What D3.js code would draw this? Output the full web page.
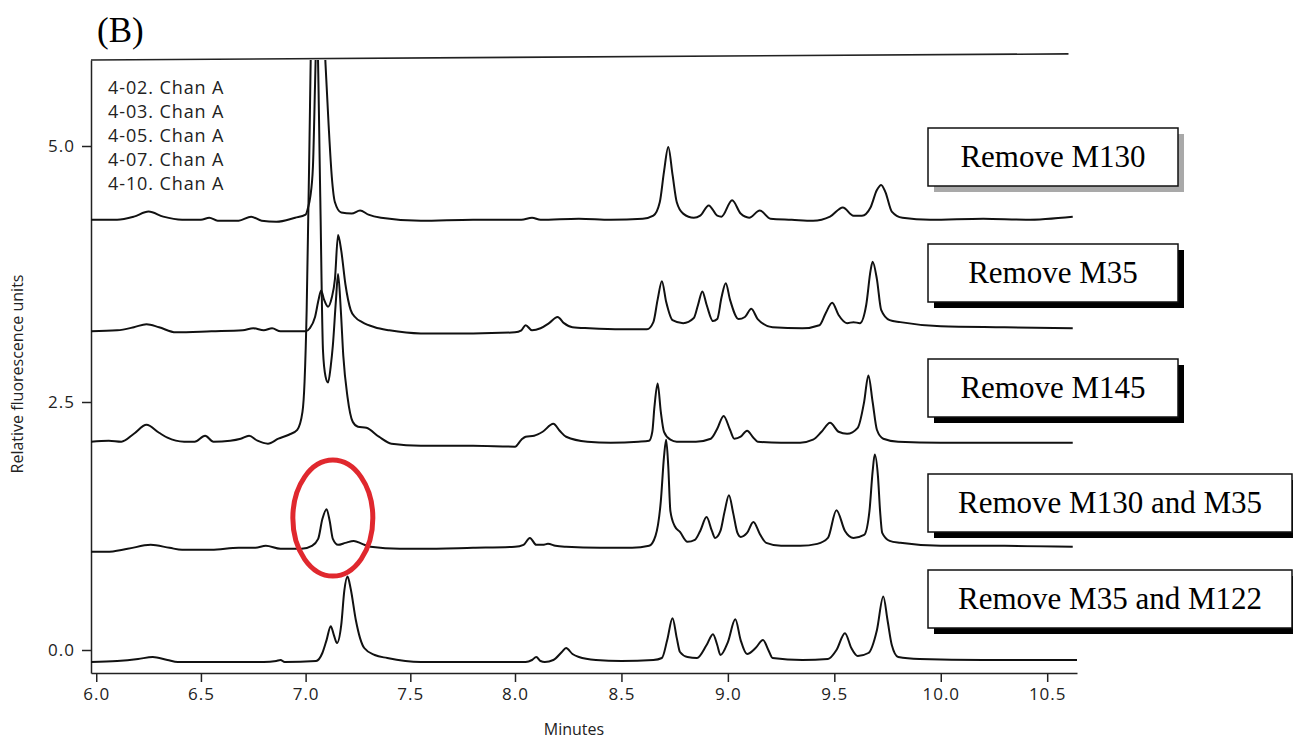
<!DOCTYPE html>
<html>
<head>
<meta charset="utf-8">
<script src="https://cdn.jsdelivr.net/npm/d3@7"></script>
<style>
  body { margin: 0; background: #fff; }
  svg { display: block; }
  .axis text { font-family: "Open Sans", sans-serif; font-size: 17px; letter-spacing: 1px; fill: #222; }
  .axis path, .axis line { stroke: #222; stroke-width: 1.5; }
</style>
</head>
<body>
<div id="chart"></div>
<script>
// ── data: [minutes, relative fluorescence units] ──
const traceM130 = [
  [5.975, 4.28], [6.10, 4.28], [6.18, 4.31], [6.25, 4.36], [6.32, 4.31], [6.41, 4.28], [6.50, 4.28],
  [6.54, 4.30], [6.58, 4.27], [6.68, 4.27], [6.74, 4.31], [6.79, 4.27], [6.86, 4.26], [6.95, 4.30],
  [7.00, 4.33], [7.012, 4.40], [7.022, 4.50], [7.035, 4.80], [7.045, 5.60], [7.052, 6.20], [7.065, 6.80],
  [7.08, 6.50], [7.095, 5.80], [7.11, 5.20], [7.125, 4.70], [7.14, 4.45], [7.17, 4.35], [7.22, 4.34],
  [7.26, 4.37], [7.30, 4.33], [7.36, 4.30], [7.55, 4.27], [7.80, 4.28], [8.03, 4.28], [8.08, 4.30],
  [8.12, 4.28], [8.30, 4.29], [8.45, 4.28], [8.60, 4.29], [8.65, 4.32], [8.68, 4.45], [8.70, 4.75],
  [8.72, 4.99], [8.74, 4.72], [8.76, 4.45], [8.79, 4.34], [8.84, 4.30], [8.87, 4.32], [8.91, 4.42],
  [8.95, 4.32], [8.97, 4.31], [9.02, 4.47], [9.06, 4.34], [9.10, 4.30], [9.15, 4.37], [9.20, 4.29],
  [9.30, 4.28], [9.40, 4.27], [9.48, 4.31], [9.54, 4.40], [9.59, 4.32], [9.63, 4.32], [9.67, 4.40],
  [9.70, 4.57], [9.72, 4.62], [9.74, 4.55], [9.77, 4.36], [9.82, 4.30], [9.95, 4.28], [10.2, 4.29],
  [10.4, 4.28], [10.62, 4.31]
];

const traceM35 = [
  [5.975, 3.19], [6.10, 3.20], [6.18, 3.23], [6.24, 3.26], [6.30, 3.23], [6.38, 3.18], [6.55, 3.19],
  [6.70, 3.20], [6.75, 3.22], [6.80, 3.20], [6.84, 3.22], [6.88, 3.19], [7.00, 3.19], [7.02, 3.22],
  [7.045, 3.33], [7.062, 3.50], [7.074, 3.59], [7.088, 3.50], [7.107, 3.43], [7.125, 3.52], [7.14, 3.70],
  [7.155, 4.13], [7.17, 3.98], [7.19, 3.65], [7.215, 3.40], [7.236, 3.33], [7.27, 3.28], [7.33, 3.23],
  [7.40, 3.20], [7.55, 3.17], [7.80, 3.17], [8.00, 3.18], [8.03, 3.20], [8.05, 3.25], [8.08, 3.20],
  [8.12, 3.22], [8.16, 3.27], [8.20, 3.33], [8.23, 3.27], [8.27, 3.23], [8.35, 3.22], [8.50, 3.21],
  [8.62, 3.21], [8.65, 3.28], [8.67, 3.50], [8.69, 3.68], [8.71, 3.48], [8.74, 3.30], [8.79, 3.27],
  [8.84, 3.32], [8.86, 3.45], [8.88, 3.58], [8.90, 3.45], [8.93, 3.29], [8.95, 3.31], [8.97, 3.52],
  [8.99, 3.66], [9.01, 3.50], [9.05, 3.31], [9.08, 3.33], [9.11, 3.41], [9.14, 3.31], [9.21, 3.23],
  [9.35, 3.22], [9.43, 3.25], [9.46, 3.37], [9.49, 3.47], [9.52, 3.35], [9.56, 3.27], [9.59, 3.28],
  [9.62, 3.27], [9.65, 3.45], [9.67, 3.78], [9.68, 3.87], [9.70, 3.70], [9.72, 3.40], [9.76, 3.30],
  [9.81, 3.28], [10.0, 3.24], [10.3, 3.23], [10.62, 3.22]
];

const traceM145 = [
  [5.975, 2.10], [6.06, 2.11], [6.12, 2.10], [6.18, 2.18], [6.24, 2.27], [6.30, 2.19], [6.34, 2.14],
  [6.42, 2.10], [6.47, 2.10], [6.52, 2.16], [6.56, 2.10], [6.64, 2.11], [6.69, 2.13], [6.73, 2.16],
  [6.77, 2.11], [6.82, 2.08], [6.87, 2.13], [6.92, 2.17], [6.96, 2.22], [6.985, 2.40], [6.995, 2.70],
  [7.005, 3.40], [7.015, 4.60], [7.035, 6.70], [7.055, 6.20], [7.07, 4.50], [7.083, 3.00], [7.095, 2.75],
  [7.107, 2.69], [7.12, 2.85], [7.13, 3.05], [7.145, 3.50], [7.155, 3.75], [7.168, 3.40], [7.18, 2.95],
  [7.20, 2.55], [7.225, 2.30], [7.25, 2.25], [7.29, 2.24], [7.35, 2.15], [7.41, 2.08], [7.55, 2.06],
  [7.80, 2.06], [8.00, 2.05], [8.03, 2.12], [8.05, 2.15], [8.09, 2.16], [8.13, 2.20], [8.18, 2.28],
  [8.21, 2.21], [8.24, 2.15], [8.34, 2.10], [8.45, 2.09], [8.58, 2.10], [8.63, 2.11], [8.645, 2.20],
  [8.655, 2.45], [8.67, 2.68], [8.685, 2.40], [8.70, 2.20], [8.73, 2.12], [8.76, 2.10], [8.85, 2.10],
  [8.92, 2.13], [8.95, 2.23], [8.98, 2.36], [9.01, 2.22], [9.03, 2.13], [9.06, 2.15], [9.09, 2.21],
  [9.12, 2.14], [9.14, 2.10], [9.25, 2.09], [9.34, 2.09], [9.40, 2.12], [9.44, 2.20], [9.48, 2.29],
  [9.52, 2.20], [9.56, 2.18], [9.61, 2.24], [9.64, 2.50], [9.66, 2.76], [9.68, 2.50], [9.70, 2.22],
  [9.73, 2.13], [9.80, 2.10], [10.0, 2.09], [10.3, 2.09], [10.62, 2.09]
];

const traceM130M35 = [
  [5.975, 0.99], [6.05, 0.99], [6.15, 1.02], [6.26, 1.06], [6.35, 1.03], [6.41, 1.01], [6.55, 1.01],
  [6.68, 1.03], [6.76, 1.03], [6.81, 1.05], [6.88, 1.02], [6.98, 1.02], [7.03, 1.05], [7.06, 1.12],
  [7.08, 1.32], [7.10, 1.42], [7.115, 1.30], [7.13, 1.12], [7.155, 1.06], [7.19, 1.08], [7.23, 1.10],
  [7.27, 1.07], [7.31, 1.04], [7.45, 1.02], [7.55, 1.02], [7.80, 1.03], [8.00, 1.04], [8.04, 1.06],
  [8.07, 1.13], [8.10, 1.06], [8.13, 1.06], [8.155, 1.07], [8.19, 1.05], [8.24, 1.04], [8.40, 1.03],
  [8.55, 1.03], [8.63, 1.05], [8.66, 1.15], [8.685, 1.50], [8.70, 1.95], [8.71, 2.12], [8.72, 1.85],
  [8.73, 1.40], [8.75, 1.25], [8.775, 1.19], [8.81, 1.09], [8.845, 1.11], [8.87, 1.20], [8.90, 1.34],
  [8.925, 1.20], [8.94, 1.13], [8.965, 1.20], [8.985, 1.40], [9.005, 1.56], [9.025, 1.38], [9.045, 1.18],
  [9.06, 1.14], [9.09, 1.18], [9.12, 1.29], [9.15, 1.17], [9.18, 1.08], [9.25, 1.05], [9.34, 1.05],
  [9.42, 1.07], [9.47, 1.13], [9.51, 1.41], [9.55, 1.20], [9.59, 1.13], [9.64, 1.16], [9.665, 1.40],
  [9.68, 1.80], [9.69, 1.97], [9.705, 1.75], [9.715, 1.40], [9.725, 1.18], [9.76, 1.10], [9.81, 1.08],
  [10.0, 1.05], [10.3, 1.05], [10.62, 1.04]
];

const traceM35M122 = [
  [5.975, -0.12], [6.10, -0.11], [6.20, -0.09], [6.27, -0.07], [6.34, -0.10], [6.39, -0.12], [6.60, -0.12],
  [6.80, -0.12], [6.86, -0.11], [6.88, -0.10], [6.90, -0.12], [7.05, -0.11], [7.08, -0.03], [7.10, 0.10],
  [7.12, 0.24], [7.135, 0.15], [7.15, 0.07], [7.17, 0.25], [7.185, 0.60], [7.20, 0.74], [7.215, 0.62],
  [7.24, 0.30], [7.26, 0.12], [7.28, 0.02], [7.33, -0.05], [7.39, -0.08], [7.55, -0.12], [7.80, -0.12],
  [8.05, -0.12], [8.08, -0.10], [8.10, -0.07], [8.12, -0.11], [8.14, -0.12], [8.18, -0.10], [8.22, -0.02],
  [8.24, 0.02], [8.27, -0.04], [8.30, -0.07], [8.38, -0.10], [8.50, -0.11], [8.65, -0.10], [8.69, -0.08],
  [8.715, 0.10], [8.74, 0.32], [8.76, 0.12], [8.775, -0.02], [8.81, -0.07], [8.855, -0.08], [8.90, 0.05],
  [8.93, 0.16], [8.95, 0.05], [8.965, -0.05], [9.00, 0.08], [9.035, 0.31], [9.06, 0.10], [9.09, -0.04],
  [9.13, 0.02], [9.165, 0.10], [9.19, 0.00], [9.21, -0.08], [9.35, -0.10], [9.47, -0.09], [9.51, 0.00],
  [9.55, 0.17], [9.58, 0.02], [9.61, -0.06], [9.66, -0.03], [9.70, 0.20], [9.73, 0.54], [9.75, 0.30],
  [9.77, 0.05], [9.80, -0.07], [9.90, -0.09], [10.2, -0.10], [10.64, -0.10]
];

const traces     = [traceM130, traceM35, traceM145, traceM130M35, traceM35M122];
const labels     = ["Remove M130", "Remove M35", "Remove M145", "Remove M130 and M35", "Remove M35 and M122"];
const runNames   = ["4-02. Chan A", "4-03. Chan A", "4-05. Chan A", "4-07. Chan A", "4-10. Chan A"];
const xTicks     = [6.0, 6.5, 7.0, 7.5, 8.0, 8.5, 9.0, 9.5, 10.0, 10.5];
const yTicks     = [0.0, 2.5, 5.0];
const circled    = [7.13, 1.33];   // the peak marked in red

// ── layout ──
const W = 1293, H = 740;
const BOX_X = 928, BOX_H = 58;
const BOX_Y = [128, 244, 359, 474, 570];
const BOX_W = [250, 250, 250, 364, 364];
const SHADOW = ["#a9a9a9", "#000", "#000", "#000", "#000"];

const svg = d3.select("#chart").append("svg")
  .attr("width", W).attr("height", H);

// scanned figure: the time axis is slightly stretched past 8.0 min
const x = d3.scaleLinear().domain([5.975, 8, 10.64]).range([91, 515, 1077]);
const y = d3.scaleLinear().domain([-0.23, 0, 2.5, 5, 5.84]).range([673, 650, 402, 146, 60]);

svg.append("defs").append("clipPath").attr("id", "plot-clip")
  .append("rect").attr("x", 0).attr("y", 60).attr("width", W).attr("height", H - 60);

// ── axes ──
svg.append("g").attr("class", "axis")
  .attr("transform", `translate(0,${y(-0.23)})`)
  .call(d3.axisBottom(x).tickValues(xTicks).tickFormat(d3.format(".1f"))
    .tickSize(9).tickSizeOuter(0).tickPadding(6));

svg.append("g").attr("class", "axis")
  .attr("transform", `translate(${x(5.975)},0)`)
  .call(d3.axisLeft(y).tickValues(yTicks).tickFormat(d3.format(".1f"))
    .tickSize(9).tickSizeOuter(0).tickPadding(7));

// top frame line of the recorder plot
svg.append("path")
  .attr("d", d3.line().x(d => x(d[0])).y(d => y(d[1]))([[5.975, 5.84], [10.6, 5.90]]))
  .attr("fill", "none").attr("stroke", "#222").attr("stroke-width", 1.6);

// ── traces ──
const line = d3.line()
  .x(d => x(d[0]))
  .y(d => y(d[1]))
  .curve(d3.curveMonotoneX);

svg.append("g").attr("clip-path", "url(#plot-clip)")
  .selectAll("path.trace").data(traces).join("path")
  .attr("class", "trace")
  .attr("d", line)
  .attr("fill", "none")
  .attr("stroke", "#111")
  .attr("stroke-width", 2)
  .attr("stroke-linejoin", "round");

// ── run list (top-left) ──
svg.append("g").selectAll("text").data(runNames).join("text")
  .attr("x", 108).attr("y", (d, i) => 94 + i * 24)
  .attr("font-family", "Open Sans, sans-serif")
  .attr("font-size", 18).attr("letter-spacing", 0.9)
  .attr("fill", "#222")
  .text(d => d);

// ── axis titles ──
svg.append("text")
  .attr("x", 574).attr("y", 735).attr("text-anchor", "middle")
  .attr("font-family", "Open Sans, sans-serif").attr("font-size", 16).attr("fill", "#222")
  .text("Minutes");

svg.append("text")
  .attr("transform", "translate(23,374) rotate(-90)")
  .attr("text-anchor", "middle")
  .attr("font-family", "Open Sans, sans-serif").attr("font-size", 16).attr("fill", "#222")
  .text("Relative fluorescence units");

// panel letter
svg.append("text")
  .attr("x", 97).attr("y", 42)
  .attr("font-family", "Liberation Serif, serif").attr("font-size", 35).attr("fill", "#000")
  .text("(B)");

// ── label boxes ──
const boxes = svg.append("g").selectAll("g").data(labels).join("g")
  .attr("transform", (d, i) => `translate(${BOX_X},${BOX_Y[i]})`);

boxes.append("rect")
  .attr("x", 6).attr("y", 6)
  .attr("width", (d, i) => BOX_W[i]).attr("height", BOX_H)
  .attr("fill", (d, i) => SHADOW[i]);

boxes.append("rect")
  .attr("width", (d, i) => BOX_W[i]).attr("height", BOX_H)
  .attr("fill", "#fff").attr("stroke", "#111").attr("stroke-width", 1.5);

boxes.append("text")
  .attr("x", (d, i) => BOX_W[i] / 2).attr("y", BOX_H / 2 + 10)
  .attr("text-anchor", "middle")
  .attr("font-family", "Liberation Serif, serif").attr("font-size", 31).attr("fill", "#000")
  .text(d => d);

// ── red ring round the small peak ──
svg.append("ellipse")
  .attr("cx", x(circled[0])).attr("cy", y(circled[1]))
  .attr("rx", 40).attr("ry", 58)
  .attr("fill", "none").attr("stroke", "#e0282e").attr("stroke-width", 5);
</script>
</body>
</html>
